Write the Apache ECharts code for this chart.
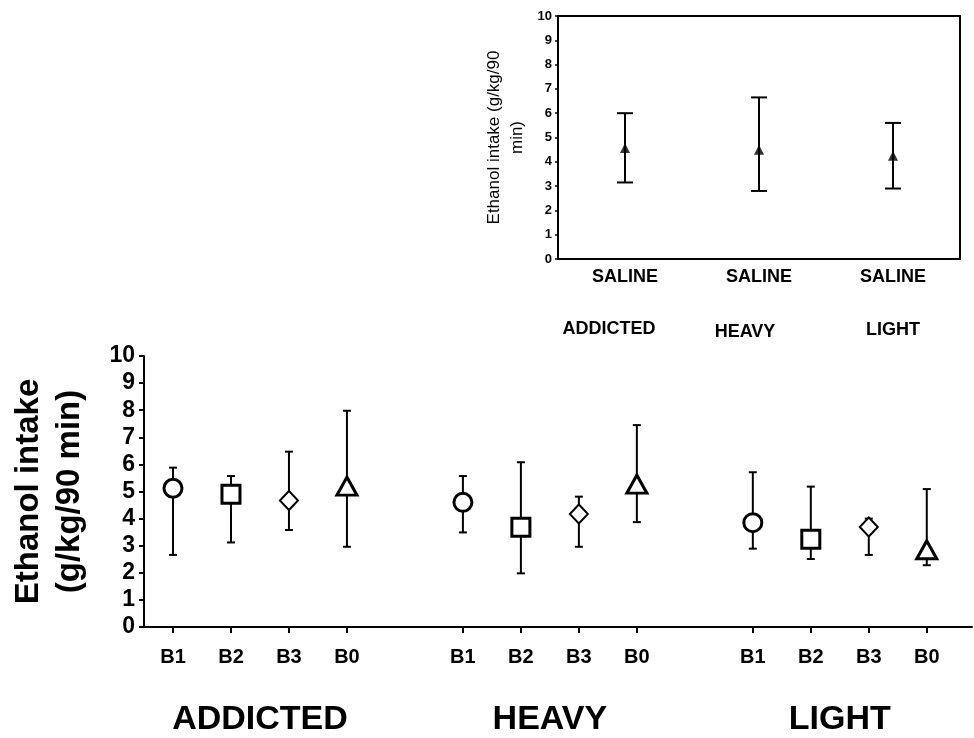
<!DOCTYPE html>
<html>
<head>
    <meta charset="utf-8">
    <title>Ethanol intake</title>
    <script src="https://cdn.jsdelivr.net/npm/echarts@6/dist/echarts.min.js"></script>
    <style>
        html, body { margin: 0; padding: 0; background: #ffffff; }
        #chart { width: 974px; height: 738px; }
    </style>
</head>
<body>
<div id="chart"></div>
<script>
// 分组与条件
var groups = ['ADDICTED', 'HEAVY', 'LIGHT'];
var bLabels = ['B1', 'B2', 'B3', 'B0'];
var salineLabel = 'SALINE';

// 主图: 每组 B1 B2 B3 B0 的均值与误差上下限
var meanAddicted = [5.12, 4.9, 4.67, 5.2];
var lowAddicted  = [2.66, 3.12, 3.58, 2.96];
var highAddicted = [5.88, 5.57, 6.47, 7.98];

var meanHeavy = [4.6, 3.68, 4.17, 5.27];
var lowHeavy  = [3.49, 1.98, 2.96, 3.87];
var highHeavy = [5.57, 6.08, 4.81, 7.45];

var meanLight = [3.85, 3.24, 3.69, 2.85];
var lowLight  = [2.89, 2.51, 2.66, 2.28];
var highLight = [5.71, 5.18, 4.0, 5.09];

// 小图: SALINE
var salineMean = [4.57, 4.5, 4.25];
var salineLow  = [3.15, 2.8, 2.9];
var salineHigh = [6.0, 6.65, 5.6];

var yTicks = [0, 1, 2, 3, 4, 5, 6, 7, 8, 9, 10];

var means = [meanAddicted, meanHeavy, meanLight];
var lows = [lowAddicted, lowHeavy, lowLight];
var highs = [highAddicted, highHeavy, highLight];

var markerSymbols = ['circle', 'rect', 'diamond', 'triangle'];
var markerBorders = [3, 3, 2, 3];
var markerSizes = [[18, 18], [18, 18], [18, 19], [20, 18]];

var FONT = 'Liberation Sans, Arial, sans-serif';

// 每个位置: 组序号*5 + B序号 (组间空一格)
var slotPositions = [];
groups.forEach(function (g, gi) {
    bLabels.forEach(function (b, bi) { slotPositions.push(gi * 5 + bi); });
});
var groupCenters = groups.map(function (g, gi) { return gi * 5 + (bLabels.length - 1) / 2; });

function errorBarRender(capHalf, lw) {
    return function (params, api) {
        var x = api.value(0);
        var p1 = api.coord([x, api.value(1)]);
        var p2 = api.coord([x, api.value(2)]);
        var st = { stroke: '#000', lineWidth: lw };
        return {
            type: 'group',
            children: [
                { type: 'line', shape: { x1: p1[0], y1: p1[1], x2: p2[0], y2: p2[1] }, style: st },
                { type: 'line', shape: { x1: p1[0] - capHalf, y1: p1[1], x2: p1[0] + capHalf, y2: p1[1] }, style: st },
                { type: 'line', shape: { x1: p2[0] - capHalf, y1: p2[1], x2: p2[0] + capHalf, y2: p2[1] }, style: st }
            ]
        };
    };
}

var mainErr = [];
groups.forEach(function (g, gi) {
    bLabels.forEach(function (b, bi) {
        mainErr.push([gi * 5 + bi, lows[gi][bi], highs[gi][bi]]);
    });
});

var series = [
    {
        type: 'custom',
        xAxisIndex: 0, yAxisIndex: 0,
        renderItem: errorBarRender(8, 2),
        data: groups.map(function (g, i) { return [i, salineLow[i], salineHigh[i]]; }),
        z: 2
    },
    {
        type: 'scatter',
        xAxisIndex: 0, yAxisIndex: 0,
        symbol: 'triangle',
        symbolSize: 10,
        itemStyle: { color: '#000' },
        data: groups.map(function (g, i) { return [i, salineMean[i]]; }),
        z: 3
    },
    {
        type: 'custom',
        xAxisIndex: 2, yAxisIndex: 1,
        renderItem: errorBarRender(4, 2),
        data: mainErr,
        z: 2
    }
];

bLabels.forEach(function (b, bi) {
    series.push({
        name: b,
        type: 'scatter',
        xAxisIndex: 2, yAxisIndex: 1,
        symbol: markerSymbols[bi],
        symbolSize: markerSizes[bi],
        itemStyle: { color: '#fff', borderColor: '#000', borderWidth: markerBorders[bi], opacity: 1 },
        data: groups.map(function (g, gi) { return [gi * 5 + bi, means[gi][bi]]; }),
        z: 3
    });
});

var chart = echarts.init(document.getElementById('chart'));
var option = {
    backgroundColor: '#fff',
    animation: false,
    textStyle: { fontFamily: FONT, color: '#000' },
    grid: [
        { left: 558, top: 16, width: 402, height: 243, show: true, borderColor: '#000', borderWidth: 2 },
        { left: 144, top: 356, width: 828, height: 271 }
    ],
    xAxis: [
        {
            gridIndex: 0, type: 'category', data: groups, boundaryGap: true,
            axisLine: { onZero: false, lineStyle: { color: '#000', width: 2 } },
            axisTick: { alignWithLabel: true, length: 4, lineStyle: { color: '#000', width: 1.5 } },
            axisLabel: {
                formatter: function () { return salineLabel; },
                margin: 9, fontSize: 18, lineHeight: 18, fontWeight: 'bold', color: '#000', fontFamily: FONT
            }
        },
        {
            gridIndex: 0, type: 'category', data: groups, boundaryGap: true, position: 'bottom',
            axisLine: { show: false, onZero: false }, axisTick: { show: false },
            axisLabel: {
                margin: 61, color: '#000',
                formatter: function (v, i) { return '{g' + i + '|' + v + '}'; },
                rich: {
                    g0: { fontSize: 18, lineHeight: 18, fontWeight: 'bold', fontFamily: FONT, padding: [0, 32, 0, 0] },
                    g1: { fontSize: 18, lineHeight: 18, fontWeight: 'bold', fontFamily: FONT, padding: [6, 28, 0, 0] },
                    g2: { fontSize: 18, lineHeight: 18, fontWeight: 'bold', fontFamily: FONT, padding: [2, 0, 0, 0] }
                }
            }
        },
        {
            gridIndex: 1, type: 'value', min: -0.5, max: 13.78,
            splitLine: { show: false },
            axisLine: { onZero: false, lineStyle: { color: '#000', width: 2 } },
            axisTick: { customValues: slotPositions, length: 6, lineStyle: { color: '#000', width: 2 } },
            axisLabel: {
                customValues: slotPositions,
                formatter: function (v) { return bLabels[Math.round(v) % 5]; },
                margin: 20, fontSize: 20, lineHeight: 20, fontWeight: 'bold', color: '#000', fontFamily: FONT
            }
        },
        {
            gridIndex: 1, type: 'value', min: -0.5, max: 13.78, position: 'bottom',
            splitLine: { show: false }, axisLine: { show: false, onZero: false }, axisTick: { show: false },
            axisLabel: {
                customValues: groupCenters,
                formatter: function (v) { return groups[Math.round((v - 1.5) / 5)]; },
                margin: 76, fontSize: 34, lineHeight: 34, fontWeight: 'bold', color: '#000', fontFamily: FONT
            }
        }
    ],
    yAxis: [
        {
            gridIndex: 0, type: 'value', min: yTicks[0], max: yTicks[yTicks.length - 1], interval: 1,
            splitLine: { show: false },
            axisLine: { show: true, onZero: false, lineStyle: { color: '#000', width: 2 } },
            axisTick: { show: true, length: 3, lineStyle: { color: '#000', width: 1.5 } },
            axisLabel: { margin: 6, fontSize: 13, fontWeight: 'bold', color: '#000', fontFamily: FONT },
            name: 'Ethanol intake (g/kg/90\nmin)',
            nameLocation: 'middle', nameGap: 29, nameRotate: 90,
            nameTextStyle: { fontSize: 17, lineHeight: 23, color: '#000', fontFamily: FONT }
        },
        {
            gridIndex: 1, type: 'value', min: yTicks[0], max: yTicks[yTicks.length - 1], interval: 1,
            splitLine: { show: false },
            axisLine: { show: true, onZero: false, lineStyle: { color: '#000', width: 2 } },
            axisTick: { show: true, length: 5, lineStyle: { color: '#000', width: 2 } },
            axisLabel: { margin: 9, fontSize: 23, fontWeight: 'bold', color: '#000', fontFamily: FONT },
            name: 'Ethanol intake\n(g/kg/90 min)',
            nameLocation: 'middle', nameGap: 54, nameRotate: 90,
            nameTextStyle: { fontSize: 33, lineHeight: 41, fontWeight: 'bold', color: '#000', fontFamily: FONT }
        }
    ],
    series: series
};
chart.setOption(option);

window.onresize = function () {
    chart.resize();
};
</script>
</body>
</html>
